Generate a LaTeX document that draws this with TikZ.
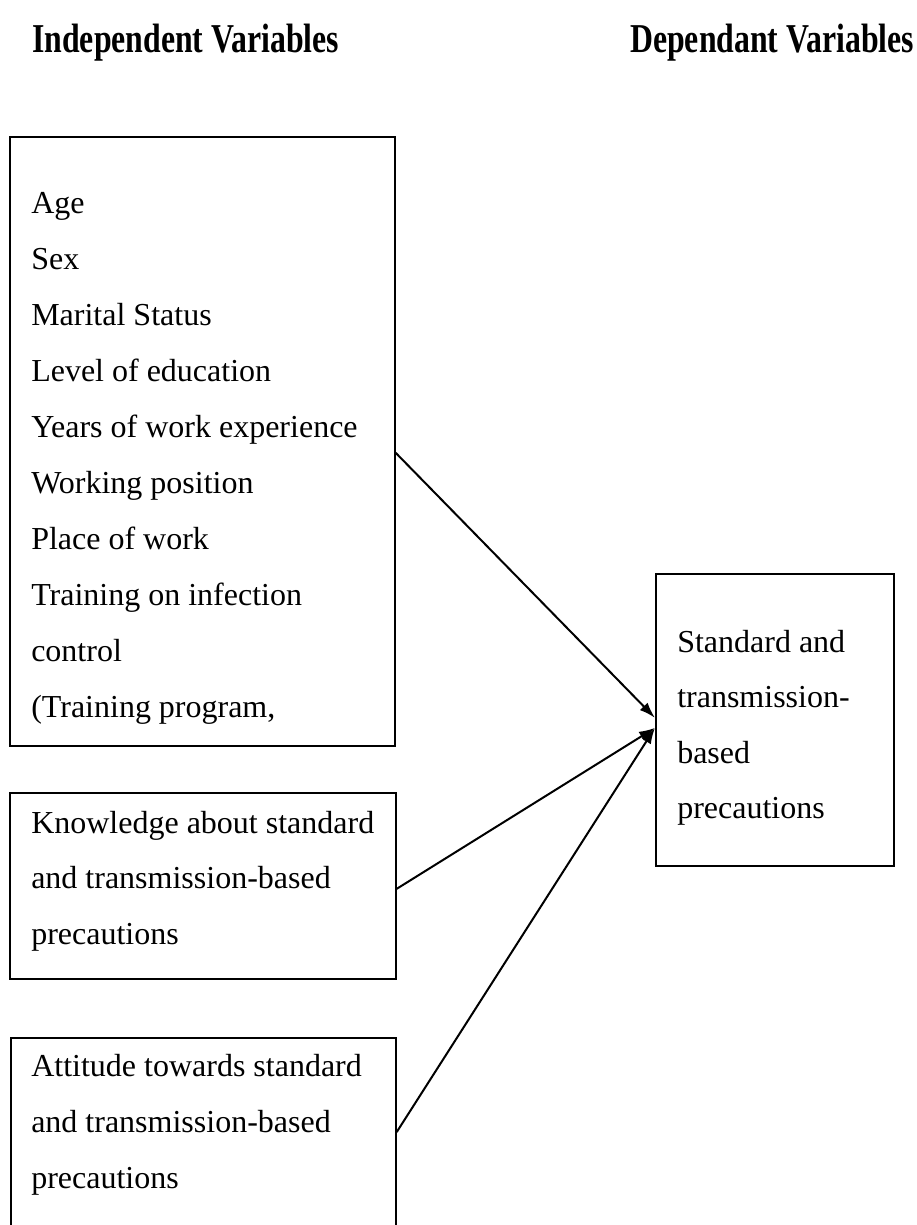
\documentclass[tikz,border=0pt]{standalone}
\usepackage{fontspec}
\setmainfont{Liberation Serif}
\usetikzlibrary{arrows.meta}
\begin{document}
\begin{tikzpicture}[x=0.75pt,y=-0.75pt,
  varbox/.style={draw,line width=1.3pt,rectangle,inner sep=0pt,anchor=north west},
  itemtxt/.style={anchor=base west,inner sep=0pt,font=\fontsize{24}{28}\selectfont},
  headtxt/.style={anchor=base west,inner sep=0pt},
  link/.style={line width=1.5pt,-{Latex[length=12pt,width=8pt]}}]
\useasboundingbox (0,0) rectangle (917,1225);
% headings
\node[headtxt] (h1) at (32,52) {\scalebox{0.775}[1]{\fontsize{30.75}{34}\selectfont\bfseries Independent Variables}};
\node[headtxt] (h2) at (630,52) {\scalebox{0.775}[1]{\fontsize{30.75}{34}\selectfont\bfseries Dependant Variables}};
% boxes
\node[varbox,minimum width=288.75pt,minimum height=456.75pt] (box1) at (9,136) {};
\node[varbox,minimum width=289.5pt,minimum height=139.5pt] (box2) at (9,792) {};
\node[varbox,minimum width=288.75pt,minimum height=160pt] (box3) at (10,1037) {};
\node[varbox,minimum width=178.5pt,minimum height=219pt] (dep) at (655,573) {};
% box 1 text
\foreach \t [count=\i from 0] in {Age,Sex,Marital Status,Level of education,Years of work experience,Working position,Place of work,Training on infection,control,{(Training program,}}
  \node[itemtxt] (a\i) at (31,213+56.1*\i) {\t};
% box 2 text
\node[itemtxt] (k1) at (31,833) {Knowledge about standard};
\node[itemtxt] (k2) at (31,888.5) {and transmission-based};
\node[itemtxt] (k3) at (31,944) {precautions};
% box 3 text
\node[itemtxt] (t1) at (31,1076) {Attitude towards standard};
\node[itemtxt] (t2) at (31,1132) {and transmission-based};
\node[itemtxt] (t3) at (31,1188) {precautions};
% dependent text
\node[itemtxt] (d1) at (677,652) {Standard and};
\node[itemtxt] (d2) at (677,707.5) {transmission-};
\node[itemtxt] (d3) at (677,763) {based};
\node[itemtxt] (d4) at (677,818.5) {precautions};
% connectors
\draw[link] ([yshift=-8.6pt]box1.east) -- ([yshift=1.5pt]dep.west);
\draw[link] ([yshift=-2.2pt]box2.east) -- ([yshift=-6pt]dep.west);
\draw[link] ([yshift=-71.25pt]box3.north east) -- ([yshift=-6pt]dep.west);
\end{tikzpicture}
\end{document}
